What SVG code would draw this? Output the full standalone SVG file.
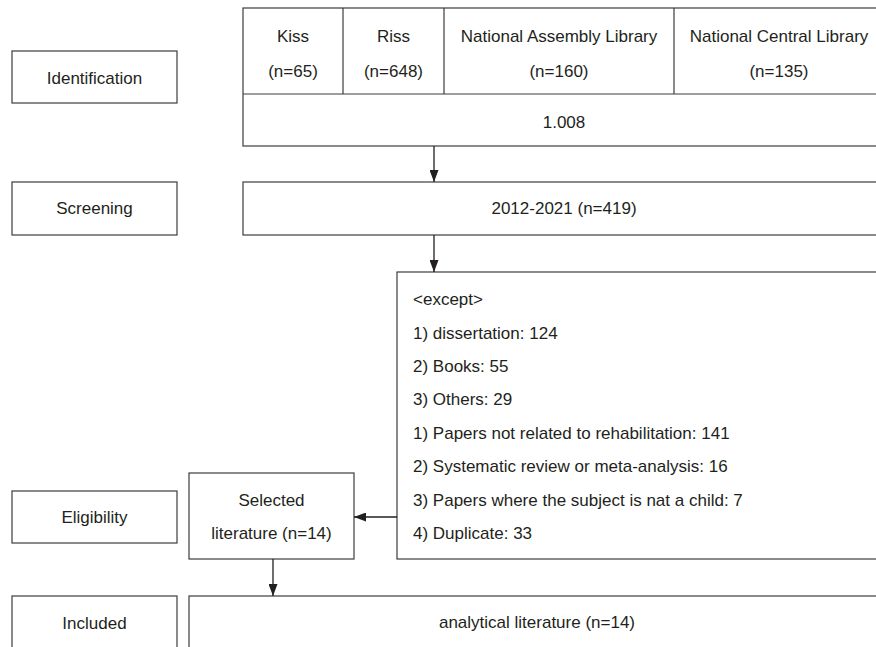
<svg xmlns="http://www.w3.org/2000/svg" width="876" height="647" viewBox="0 0 876 647">
<defs>
<style>
.box{fill:#fff;stroke:#3c3c3c;stroke-width:1.2}
.ln{fill:none;stroke:#3c3c3c;stroke-width:1.2}
.t{font-family:"Liberation Sans",Arial,sans-serif;font-size:17px;fill:#231f20}
.c{text-anchor:middle}
.conn{fill:none;stroke:#231f20;stroke-width:1.3}
</style>
<marker id="ah" markerUnits="userSpaceOnUse" markerWidth="12" markerHeight="9" refX="12" refY="4.5" orient="auto">
<path d="M0,0 L12,4.5 L0,9 z" fill="#231f20"/>
</marker>
</defs>
<rect width="876" height="647" fill="#fff"/>

<g id="identification">
<rect class="box" x="12" y="51" width="165" height="52"/>
<text class="t c" x="94.5" y="84">Identification</text>
</g>
<g id="screening">
<rect class="box" x="12" y="182" width="165" height="53"/>
<text class="t c" x="94.5" y="214">Screening</text>
</g>
<g id="eligibility">
<rect class="box" x="12" y="491" width="165" height="52"/>
<text class="t c" x="94.5" y="523">Eligibility</text>
</g>
<g id="included">
<rect class="box" x="12" y="596" width="165" height="60"/>
<text class="t c" x="94.5" y="629">Included</text>
</g>

<g id="sources">
<rect class="box" x="243" y="8" width="641" height="138"/>
<line class="ln" x1="243" y1="94" x2="884" y2="94"/>
<line class="ln" x1="343" y1="8" x2="343" y2="94"/>
<line class="ln" x1="444" y1="8" x2="444" y2="94"/>
<line class="ln" x1="674" y1="8" x2="674" y2="94"/>
<text class="t c" x="293" y="42">Kiss</text>
<text class="t c" x="293" y="77">(n=65)</text>
<text class="t c" x="393.5" y="42">Riss</text>
<text class="t c" x="393.5" y="77">(n=648)</text>
<text class="t c" x="559" y="42">National Assembly Library</text>
<text class="t c" x="559" y="77">(n=160)</text>
<text class="t c" x="779" y="42">National Central Library</text>
<text class="t c" x="779" y="77">(n=135)</text>
<text class="t c" x="564" y="128">1.008</text>
</g>

<g id="screened">
<rect class="box" x="243" y="182" width="641" height="53"/>
<text class="t c" x="564" y="214">2012-2021 (n=419)</text>
</g>

<g id="except">
<rect class="box" x="397" y="272" width="487" height="287"/>
<text class="t" x="413" y="305">&lt;except&gt;</text>
<text class="t" x="413" y="339">1) dissertation: 124</text>
<text class="t" x="413" y="372">2) Books: 55</text>
<text class="t" x="413" y="405">3) Others: 29</text>
<text class="t" x="413" y="439">1) Papers not related to rehabilitation: 141</text>
<text class="t" x="413" y="472">2) Systematic review or meta-analysis: 16</text>
<text class="t" x="413" y="506">3) Papers where the subject is nat a child: 7</text>
<text class="t" x="413" y="539">4) Duplicate: 33</text>
</g>

<g id="selected">
<rect class="box" x="189" y="473" width="165" height="86"/>
<text class="t c" x="271.5" y="506">Selected</text>
<text class="t c" x="271.5" y="539">literature (n=14)</text>
</g>

<g id="analytical">
<rect class="box" x="189" y="596" width="696" height="60"/>
<text class="t c" x="537" y="628">analytical literature (n=14)</text>
</g>

<g id="connectors">
<line class="conn" x1="434" y1="146" x2="434" y2="182" marker-end="url(#ah)"/>
<line class="conn" x1="434" y1="235" x2="434" y2="272" marker-end="url(#ah)"/>
<line class="conn" x1="397" y1="517" x2="354" y2="517" marker-end="url(#ah)"/>
<line class="conn" x1="273" y1="559" x2="273" y2="596" marker-end="url(#ah)"/>
</g>
</svg>
